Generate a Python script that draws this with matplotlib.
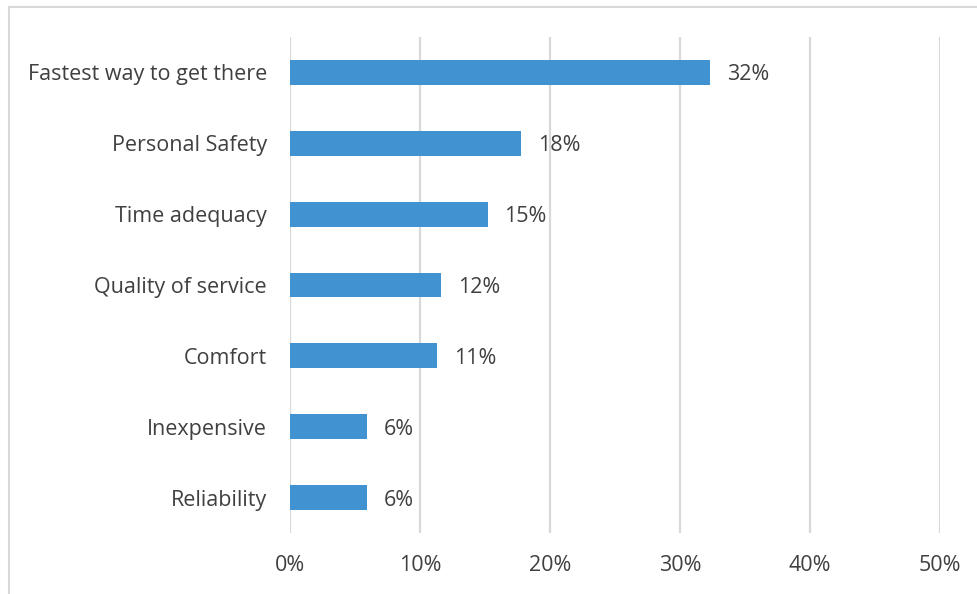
import matplotlib
matplotlib.use("Agg")
from matplotlib import pyplot as plt
from matplotlib.patches import Rectangle
import numpy as np

# reasons, top to bottom
reasons = ["Fastest way to get there", "Personal Safety", "Time adequacy",
           "Quality of service", "Comfort", "Inexpensive", "Reliability"]
shares = [0.323, 0.178, 0.152, 0.116, 0.113, 0.059, 0.059]
xticks = [0.0, 0.1, 0.2, 0.3, 0.4, 0.5]

bar_color = "#4192D1"
text_color = "#404040"
grid_color = "#D9D9D9"

plt.rcParams["font.family"] = ["Open Sans", "DejaVu Sans"]

fig = plt.figure(figsize=(9.78, 5.94), dpi=100)
ax = fig.add_axes([0.2965, 0.1027, 0.6646, 0.835])

y = np.arange(len(reasons))[::-1]
ax.barh(y, shares, height=0.35, color=bar_color, zorder=3)

for yi, v in zip(y, shares):
    ax.text(v + 0.013, yi, "{:.0f}%".format(v * 100), va="center_baseline",
            ha="left", fontsize=15.5, color=text_color)

ax.set_xlim(0, 0.5)
ax.set_ylim(-0.5, len(reasons) - 0.5)
ax.set_yticks(y)
ax.set_yticklabels(reasons, fontsize=15.5, color=text_color)
ax.set_xticks(xticks)
ax.set_xticklabels(["{:.0f}%".format(t * 100) for t in xticks], fontsize=15.5,
                   color=text_color)
ax.tick_params(axis="both", length=0)
ax.tick_params(axis="y", pad=16.5)
ax.tick_params(axis="x", pad=16)

for t in xticks:
    ax.axvline(t, color=grid_color, lw=1.6, zorder=1)
for s in ax.spines.values():
    s.set_visible(False)

# light frame around the whole chart
fig.patches.append(Rectangle((9 / 978, -0.05), 1.0, 1 - 7 / 594 + 0.05,
                             transform=fig.transFigure, fill=False,
                             edgecolor="#D9D9D9", lw=1.5))

fig.savefig("out.png", dpi=100)
